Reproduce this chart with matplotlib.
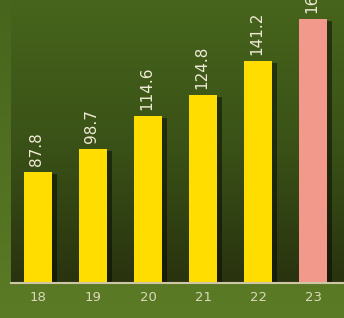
import matplotlib
matplotlib.use("Agg")
import matplotlib.pyplot as plt
import numpy as np
from matplotlib.colors import LinearSegmentedColormap
import matplotlib.patheffects as pe

categories = ["18", "19", "20", "21", "22", "23"]
values = [87.8, 98.7, 114.6, 124.8, 141.2, 161.4]
labels = ["87.8", "98.7", "114.6", "124.8", "141.2", "161.4"]
bar_colors = ["#ffdd00"] * 5 + ["#f2998c"]

fig = plt.figure(figsize=(3.44, 3.18), dpi=100)

# figure background gradient
bg = fig.add_axes([0, 0, 1, 1], zorder=-2)
bg_cmap = LinearSegmentedColormap.from_list("bg", ["#5b7b26", "#47651c"])
bg.imshow(np.linspace(0, 1, 256).reshape(-1, 1)[::-1], cmap=bg_cmap, aspect="auto",
          extent=[0, 1, 0, 1], origin="upper")
bg.set_axis_off()

ax = fig.add_axes([11 / 344, 35 / 318, 1 - 11 / 344, 283 / 318])
ax.patch.set_alpha(0)
ax_cmap = LinearSegmentedColormap.from_list("ax", ["#29330f", "#3a5217", "#47651c"])
ax.imshow(np.linspace(0, 1, 256).reshape(-1, 1)[::-1], cmap=ax_cmap, aspect="auto",
          extent=[-0.49, 5.56, 34.4, 170.5], origin="upper", zorder=0)

x = np.arange(len(categories))
bars = ax.bar(x, values, width=0.5, color=bar_colors, zorder=2, edgecolor="none")
for b in bars:
    b.set_path_effects([pe.SimplePatchShadow(offset=(3.5, -1.5), shadow_rgbFace="black", alpha=0.45),
                        pe.Normal()])

for xi, v, lab in zip(x, values, labels):
    ax.annotate(lab, (xi, v), xytext=(-1, 4.5), textcoords="offset points",
                rotation=90, ha="center", va="bottom", color="#f0ead6",
                fontsize=11, annotation_clip=False, zorder=3)

ax.set_xlim(-0.49, 5.56)
ax.set_ylim(34.4, 170.5)
ax.set_xticks(x)
ax.set_xticklabels(categories, color="#ddd8bc", fontsize=9.5)
ax.tick_params(axis="x", length=0, pad=6)
ax.set_yticks([])
for s in ["top", "right", "left"]:
    ax.spines[s].set_visible(False)
ax.spines["bottom"].set_color("#cfc6a6")
ax.spines["bottom"].set_linewidth(1.5)
ax.spines["bottom"].set_zorder(4)

fig.savefig("out.png", dpi=100)
